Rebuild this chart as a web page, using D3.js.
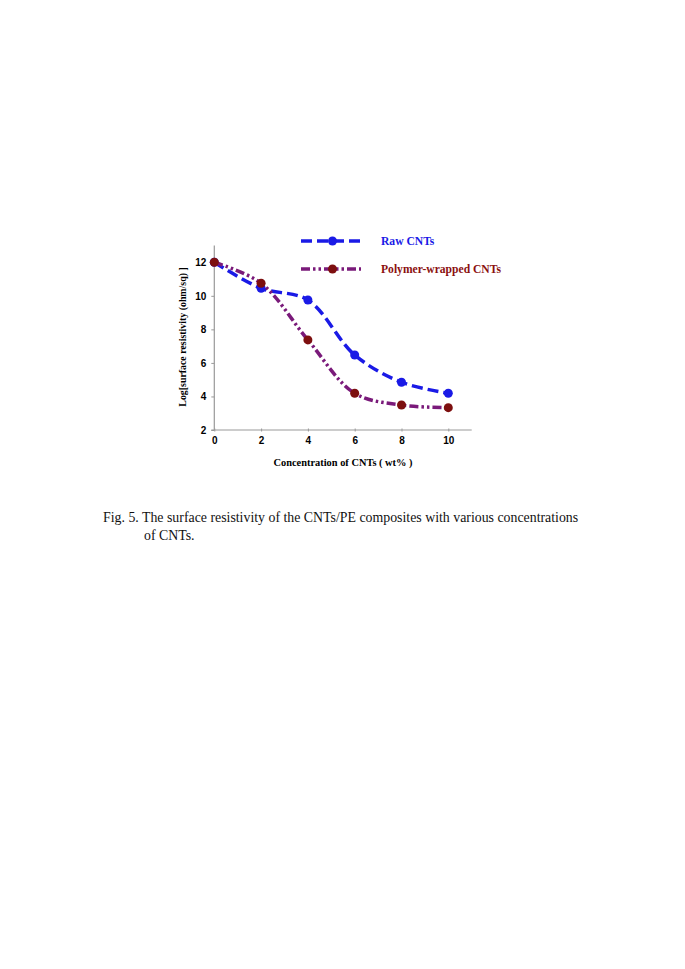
<!DOCTYPE html>
<html><head><meta charset="utf-8">
<script src="https://cdn.jsdelivr.net/npm/d3@7"></script>
<style>body{margin:0;background:#fff}svg{display:block}</style>
</head><body>
<svg id="c" width="685" height="969"></svg>
<script>
const concentrations = [0, 2, 4, 6, 8, 10];
const rawCNTs = [12.0, 10.45, 9.75, 6.47, 4.85, 4.19];
const polymerCNTs = [12.0, 10.75, 7.37, 4.19, 3.49, 3.33];
const xTicks = [0, 2, 4, 6, 8, 10];
const yTicks = [2, 4, 6, 8, 10, 12];
const seriesNames = ["Raw CNTs", "Polymer-wrapped CNTs"];

const svg = d3.select("#c");
const x = d3.scaleLinear().domain([0, 11]).range([214.3, 471.7]);
const y = d3.scaleLinear().domain([2, 13]).range([430, 245.5]);
const axisColor = "#999";

// axes
const xa = svg.append("g").attr("transform", `translate(0,${y(2)})`)
  .call(d3.axisBottom(x).tickValues(xTicks).tickSize(0).tickPadding(7).tickFormat(d3.format("d")));
xa.select(".domain").attr("stroke", axisColor).attr("stroke-width", 1.2).attr("d", `M${x(0)-3},0H${x(11)}`);
xa.selectAll(".tick").append("line").attr("y1", -1.5).attr("y2", 1.5).attr("stroke", axisColor);
xa.selectAll("text").attr("font-family", "Liberation Sans, Arial, sans-serif").attr("font-weight", "bold").attr("font-size", 10).attr("fill", "#000");

const ya = svg.append("g").attr("transform", `translate(${x(0)},0)`)
  .call(d3.axisLeft(y).tickValues(yTicks).tickSize(3).tickPadding(5).tickFormat(d3.format("d")));
ya.select(".domain").attr("stroke", axisColor).attr("stroke-width", 1.2).attr("d", `M0,${y(13)}V${y(2)}`);
ya.selectAll(".tick line").attr("stroke", axisColor);
ya.selectAll("text").attr("font-family", "Liberation Sans, Arial, sans-serif").attr("font-weight", "bold").attr("font-size", 10).attr("fill", "#000");

// axis titles
svg.append("text").attr("x", 343).attr("y", 466).attr("text-anchor", "middle")
  .attr("font-family", "Liberation Serif, Times New Roman, serif").attr("font-weight", "bold").attr("font-size", 10.4)
  .text("Concentration of CNTs ( wt% )");
svg.append("text").attr("transform", `translate(186,337) rotate(-90)`).attr("text-anchor", "middle")
  .attr("font-family", "Liberation Serif, Times New Roman, serif").attr("font-weight", "bold").attr("font-size", 9.9)
  .text("Log[surface resistivity (ohm/sq) ]");

const line = d3.line().x(d => x(d[0])).y(d => y(d[1])).curve(d3.curveCatmullRom.alpha(0.5));
const series = [
  {name: seriesNames[0], vals: rawCNTs, stroke: "#1a1ae6", fill: "#1a1ae6", dash: "11,5", text: "#1a1ae6"},
  {name: seriesNames[1], vals: polymerCNTs, stroke: "#7a1a7a", fill: "#7d0f0f", dash: "9,3,2.5,3,2.5,3", text: "#8b1010"}
];
series.forEach((s, i) => {
  const pts = concentrations.map((c, j) => [c, s.vals[j]]);
  svg.append("path").attr("d", line(pts)).attr("fill", "none").attr("stroke", s.stroke)
    .attr("stroke-width", 3.5).attr("stroke-dasharray", s.dash);
  svg.selectAll(null).data(pts).enter().append("circle")
    .attr("cx", d => x(d[0])).attr("cy", d => y(d[1])).attr("r", 4.5).attr("fill", s.fill);
  // legend
  const ly = 241 + i * 28;
  svg.append("line").attr("x1", 301).attr("x2", 361).attr("y1", ly).attr("y2", ly)
    .attr("stroke", s.stroke).attr("stroke-width", 3.5).attr("stroke-dasharray", s.dash);
  svg.append("circle").attr("cx", 332.5).attr("cy", ly).attr("r", 4.5).attr("fill", s.fill);
  svg.append("text").attr("x", 381).attr("y", ly + 4).attr("font-family", "Liberation Serif, Times New Roman, serif")
    .attr("font-weight", "bold").attr("font-size", 11.6).attr("fill", s.text).text(s.name);
});

// caption
const cap = svg.append("text").attr("font-family", "Liberation Serif, Times New Roman, serif").attr("font-size", 13.85).attr("fill", "#111");
cap.append("tspan").attr("x", 103).attr("y", 522).text("Fig. 5. The surface resistivity of the CNTs/PE composites with various concentrations");
cap.append("tspan").attr("x", 144).attr("y", 540).text("of CNTs.");
</script>
</body></html>
